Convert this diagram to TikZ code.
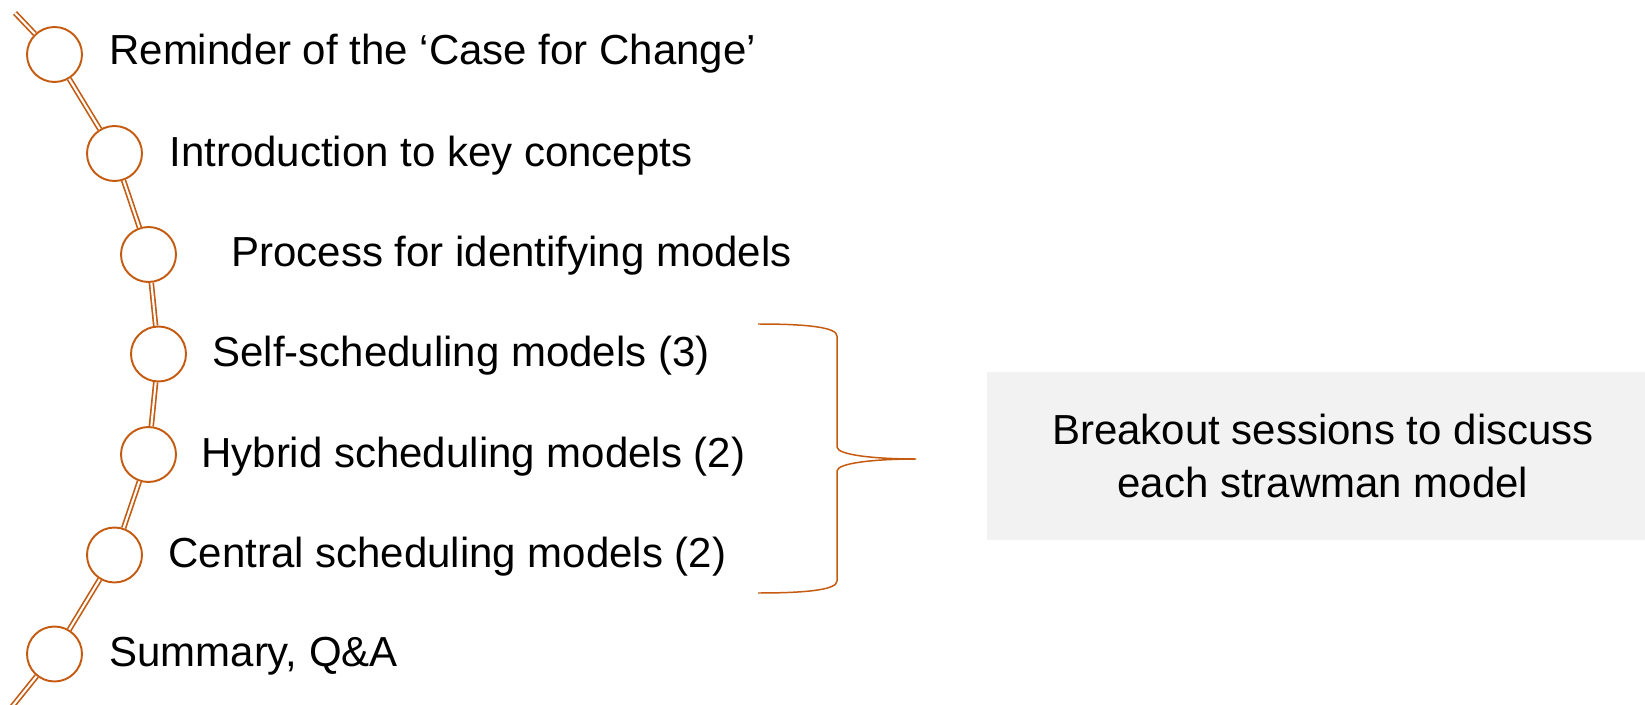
\documentclass[tikz,border=0pt]{standalone}
\usepackage{fontspec}
\setmainfont{Liberation Sans}
\definecolor{orng}{HTML}{C55A11}
\definecolor{boxgray}{HTML}{F2F2F2}
\begin{document}
\begin{tikzpicture}[x=0.02cm,y=-0.02cm,
  stop/.style={circle,draw=orng,fill=white,line width=1.1pt,minimum size=1.1cm,inner sep=0pt},
  dbl/.style={draw=orng,line width=0.95pt,double=white,double distance=1.2pt},
  lbl/.style={anchor=base west,inner sep=0pt,font=\fontsize{23.9}{29}\selectfont},
  brace/.style={draw=orng,line width=0.85pt},
  infobox/.style={rectangle,fill=boxgray,minimum width=13.44cm,minimum height=3.36cm,inner sep=0pt,align=center,font=\fontsize{23.9}{30}\selectfont}]
\useasboundingbox (0,0) rectangle (1645,705);
% stops
\node[stop] (c1) at (54.5,54.5) {};
\node[stop] (c2) at (114.5,153.5) {};
\node[stop] (c3) at (148.5,254.5) {};
\node[stop] (c4) at (158.5,354) {};
\node[stop] (c5) at (148.5,454.5) {};
\node[stop] (c6) at (114.5,555) {};
\node[stop] (c7) at (54.5,654) {};
\coordinate (s) at (15,13);
\coordinate (e) at (11,708);
% connectors
\draw[dbl] (s) -- (c1);
\draw[dbl] (c1) -- (c2);
\draw[dbl] (c2) -- (c3);
\draw[dbl] (c3) -- (c4);
\draw[dbl] (c4) -- (c5);
\draw[dbl] (c5) -- (c6);
\draw[dbl] (c6) -- (c7);
\draw[dbl] (c7) -- (e);
% labels
\node[lbl] (t1) at (109,65) {Reminder of the ‘Case for Change’};
\node[lbl] (t2) at (169,167) {Introduction to key concepts};
\node[lbl] (t3) at (231,267) {Process for identifying models};
\node[lbl] (t4) at (212,367) {Self-scheduling models (3)};
\node[lbl] (t5) at (201,467) {Hybrid scheduling models (2)};
\node[lbl] (t6) at (168,567) {Central scheduling models (2)};
\node[lbl] (t7) at (109,666) {Summary, Q\&A};
% brace
\coordinate (bt) at (758,324);
\coordinate (btip) at (916,459);
\coordinate (bb) at (758,593);
\draw[brace] (bt) .. controls (805,324) and (837,327) .. (837,336) -- (837,447)
  .. controls (837,455) and (875,459) .. (btip)
  .. controls (875,459) and (837,463) .. (837,471) -- (837,581)
  .. controls (837,590) and (805,593) .. (bb);
% box
\node[infobox] (box) at (1323,456) {Breakout sessions to discuss\\each strawman model};
\end{tikzpicture}
\end{document}
